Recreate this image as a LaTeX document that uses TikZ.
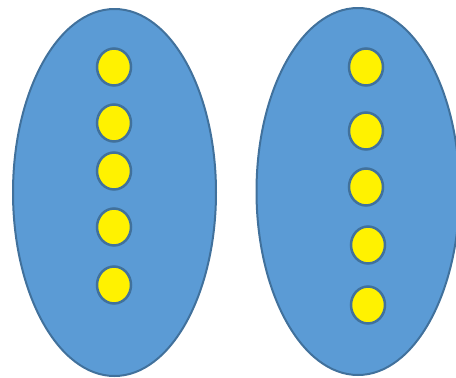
\documentclass[tikz,border=0pt]{standalone}
\usepackage{tikz}
\usetikzlibrary{shapes.geometric}
\definecolor{setblue}{HTML}{5B9BD5}
\definecolor{setedge}{HTML}{41719C}

\begin{document}
\begin{tikzpicture}[
  x=1pt, y=-1pt,
  set/.style={ellipse, draw=setedge, fill=setblue, line width=2pt, inner sep=0pt, minimum width=203pt, minimum height=367pt},
  elem/.style={ellipse, draw=setedge, fill=yellow, line width=2.5pt, inner sep=0pt, minimum width=34pt, minimum height=37pt}
]
  \useasboundingbox (0,0) rectangle (456,378);
  \clip (0,0) rectangle (456,378);

  \node[set] (left) at (114.5,192.5) {};
  \node[set] (right) at (358,191.5) {};

  \node[elem] (a1) at (114,67) {};
  \node[elem] (a2) at (114,123) {};
  \node[elem] (a3) at (114,171) {};
  \node[elem] (a4) at (114,227) {};
  \node[elem] (a5) at (114,285) {};

  \node[elem] (b1) at (366,67) {};
  \node[elem] (b2) at (366,131) {};
  \node[elem] (b3) at (366,187) {};
  \node[elem] (b4) at (368,245) {};
  \node[elem] (b5) at (368,305) {};
\end{tikzpicture}
\end{document}
